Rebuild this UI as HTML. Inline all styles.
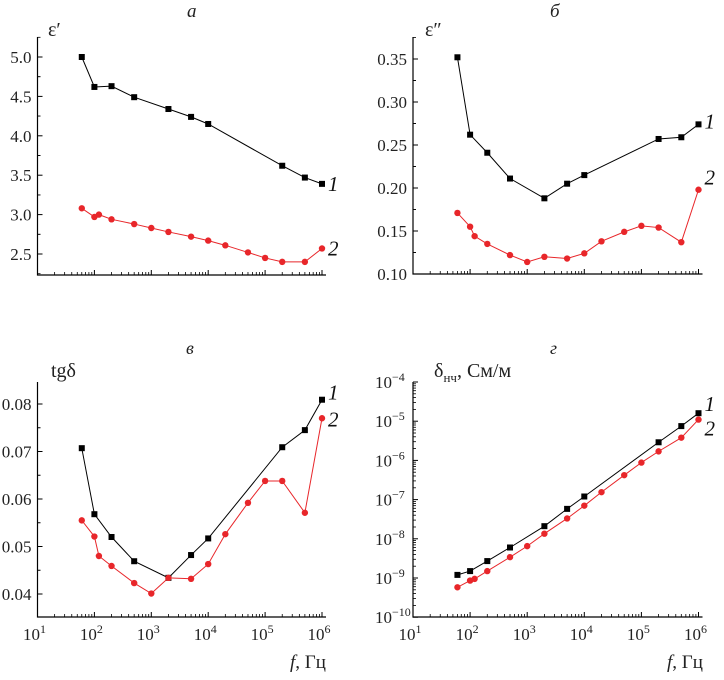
<!DOCTYPE html>
<html><head><meta charset="utf-8"><style>
html,body{margin:0;padding:0;background:#fff;}
svg{display:block;font-family:"Liberation Serif","DejaVu Serif",serif;}
</style></head><body>
<svg id="chart" width="724" height="680" viewBox="0 0 724 680"></svg>
<script>
const freq1 = [60,100,200,500,2000,5000,1e4,2e5,5e5,1e6];
const freq2 = [60,100,120,200,500,1000,2000,5000,1e4,2e4,5e4,1e5,2e5,5e5,1e6];
const epsReal1 = [5.0,4.62,4.63,4.49,4.34,4.24,4.15,3.62,3.47,3.39];
const epsReal2 = [3.08,2.97,3.0,2.94,2.88,2.83,2.78,2.72,2.67,2.61,2.52,2.45,2.40,2.40,2.57];
const epsImag1 = [0.352,0.262,0.241,0.211,0.188,0.205,0.215,0.257,0.259,0.274];
const epsImag2 = [0.171,0.155,0.144,0.135,0.122,0.114,0.120,0.118,0.124,0.138,0.149,0.156,0.154,0.137,0.198];
const tg1 = [0.0707,0.0568,0.0520,0.0469,0.0434,0.0482,0.0517,0.0709,0.0745,0.0809];
const tg2 = [0.0555,0.0521,0.0480,0.0459,0.0423,0.0401,0.0434,0.0432,0.0463,0.0526,0.0592,0.0638,0.0638,0.0571,0.0770];
const sig1 = [1.2e-9,1.5e-9,2.7e-9,6e-9,2.1e-8,5.8e-8,1.2e-7,2.9e-6,7.5e-6,1.6e-5];
const sig2 = [5.8e-10,8.6e-10,9.5e-10,1.5e-9,3.4e-9,6.5e-9,1.35e-8,3.3e-8,7e-8,1.55e-7,4.2e-7,8.8e-7,1.7e-6,3.8e-6,1.1e-5];
const ticksA = ["2.5","3.0","3.5","4.0","4.5","5.0"];
const ticksB = ["0.10","0.15","0.20","0.25","0.30","0.35"];
const ticksC = ["0.04","0.05","0.06","0.07","0.08"];
const ticksD = [-10,-9,-8,-7,-6,-5,-4];
const xDecades = [1,2,3,4,5,6];

const svg = document.getElementById('chart');
const NS = 'http://www.w3.org/2000/svg';
function mk(tag, attrs, parent){const e=document.createElementNS(NS,tag);for(const k in attrs)e.setAttribute(k,attrs[k]);(parent||svg).appendChild(e);return e;}

function panel(o){
  const g = mk('g',{});
  
  
  const X = f => o.x0 + (Math.log10(f)-1)*o.dec;
  const Y = v => o.log ? o.yRef - (Math.log10(v)-o.vRef)*o.ppu : o.yRef - (v-o.vRef)*o.ppu;
  const xEnd = X(1e6)+4;
  const ax = mk('path',{d:`M${o.x0},${o.top}V${o.bot}H${xEnd}`,stroke:'#000','stroke-width':1.2,fill:'none'},g);
  
  
  for(let d=1; d<=6; d++){
    mk('line',{x1:X(Math.pow(10,d)),x2:X(Math.pow(10,d)),y1:o.bot,y2:o.bot-5,stroke:'#000','stroke-width':1},g);
    if(d<6) for(let m=2;m<=9;m++){const xx=X(m*Math.pow(10,d));mk('line',{x1:xx,x2:xx,y1:o.bot,y2:o.bot-3,stroke:'#000','stroke-width':0.8},g);}
  }
  if(o.xLabels){
    xDecades.forEach(d=>{
      const t=mk('text',{x:X(Math.pow(10,d))-3,y:o.bot+23,'font-size':17,'text-anchor':'middle',fill:'#222'},g);
      
      
      t.appendChild(document.createTextNode('10'));
      const s=mk('tspan',{dy:-7,'font-size':12},t);s.textContent=String(d);
    });
  }
  if(o.log){
    ticksD.forEach((e,i)=>{
      const y=Y(Math.pow(10,e));
      mk('line',{x1:o.x0,x2:o.x0+5,y1:y,y2:y,stroke:'#000'},g);
      if(i<ticksD.length-1) for(let m=2;m<=9;m++){const yy=Y(m*Math.pow(10,e));mk('line',{x1:o.x0,x2:o.x0+3,y1:yy,y2:yy,stroke:'#000','stroke-width':0.8},g);}
      const t=mk('text',{x:o.x0-38,y:y+6,'font-size':17,fill:'#222'},g);
      
      
      t.appendChild(document.createTextNode('10'));
      const s=mk('tspan',{dy:-7,'font-size':12},t);s.textContent='\u2212'+(-e);
    });
  } else {
    o.ticks.forEach(lbl=>{
      const v=parseFloat(lbl), y=Y(v);
      mk('line',{x1:o.x0,x2:o.x0+5,y1:y,y2:y,stroke:'#000'},g);
      [-0.5,0.5].forEach(h=>{const yy=Y(v+h*o.step);if(yy>o.top&&yy<o.bot)mk('line',{x1:o.x0,x2:o.x0+3,y1:yy,y2:yy,stroke:'#000','stroke-width':0.8},g);});
      const t=mk('text',{x:o.x0-6,y:y+6,'font-size':17,'text-anchor':'end',fill:'#222'},g);
      
      
      t.textContent=lbl;
    });
  }
  [[o.s1,freq1,'#000','sq',o.l1],[o.s2,freq2,'#e8262a','ci',o.l2]].forEach(([vals,fr,col,mark,lp],si)=>{
    const pts=vals.map((v,i)=>[X(fr[i]),Y(v)]);
    const pl=mk('polyline',{points:pts.map(p=>p.join(',')).join(' '),fill:'none',stroke:col,'stroke-width':1},g);
    
    
    pts.forEach(p=>{
      const m = mark==='sq' ? mk('rect',{x:p[0]-3,y:p[1]-3,width:6,height:6,fill:col},g) : mk('circle',{cx:p[0],cy:p[1],r:3.2,fill:col},g);
      
      
    });
    const last=pts[pts.length-1];
    const t=mk('text',{x:last[0]+6,y:last[1]+lp,'font-size':21,'font-style':'italic',fill:'#111'},g);
    
    
    t.textContent=String(si+1);
  });
}

panel({name:'panel-a',x0:37.5,dec:56.9,top:37,bot:275,yRef:57,vRef:5.0,ppu:78.8,step:0.5,ticks:ticksA,s1:epsReal1,s2:epsReal2,l1:7,l2:7});
panel({name:'panel-b',x0:413,dec:57.1,top:37,bot:274,yRef:59,vRef:0.35,ppu:860,step:0.05,ticks:ticksB,s1:epsImag1,s2:epsImag2,l1:4,l2:-5});
panel({name:'panel-c',x0:37.5,dec:56.9,top:382,bot:617,yRef:404,vRef:0.08,ppu:4750,step:0.01,ticks:ticksC,s1:tg1,s2:tg2,l1:0,l2:8,xLabels:true});
panel({name:'panel-d',x0:413,dec:57.1,top:382,bot:617,yRef:382,vRef:-4,ppu:39.2,log:true,s1:sig1,s2:sig2,l1:-2,l2:16,xLabels:true});

function txt(s,x,y,size,name,italic){const t=mk('text',{x:x,y:y,'font-size':size,fill:'#222'});if(italic)t.setAttribute('font-style','italic');t.textContent=s;return t;}
txt('a',187,17,19,'panel-a-title',true);
txt('б',550,17,19,'panel-b-title',true);
txt('в',186,354,18,'panel-c-title',true);
txt('г',550,354,18,'panel-d-title',true);
txt('ε′',48,36,20,'y-axis-title-a');
txt('ε″',425,36,20,'y-axis-title-b');
txt('tgδ',51,377,20,'y-axis-title-c');
const yd=txt('δ',434,377,20,'y-axis-title-d');
const sb=mk('tspan',{dy:5,'font-size':13},yd);sb.textContent='нч';
const rest=mk('tspan',{dy:-5,'font-size':20},yd);rest.textContent=', См/м';
const fx1=txt('',290,668,19,'x-axis-title-c');
let ft=mk('tspan',{'font-style':'italic'},fx1);ft.textContent='f';mk('tspan',{},fx1).textContent=', Гц';
const fx2=txt('',667,668,19,'x-axis-title-d');
ft=mk('tspan',{'font-style':'italic'},fx2);ft.textContent='f';mk('tspan',{},fx2).textContent=', Гц';
</script>
</body></html>
